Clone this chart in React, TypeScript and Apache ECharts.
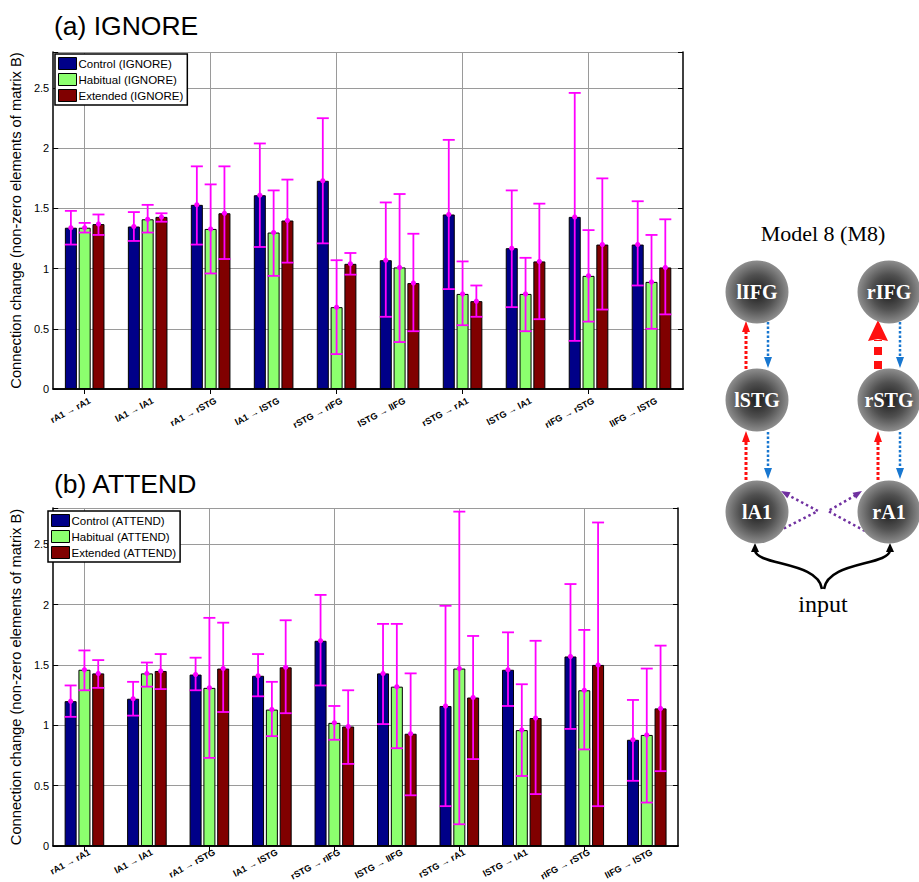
import React, { useEffect, useRef } from 'react';
import * as echarts from 'echarts';

// ---------- data ----------
const categories = [
  'rA1 → rA1', 'lA1 → lA1', 'rA1 → rSTG', 'lA1 → lSTG', 'rSTG → rIFG',
  'lSTG → lIFG', 'rSTG → rA1', 'lSTG → lA1', 'rIFG → rSTG', 'lIFG → lSTG',
];
const yTicks = [0, 0.5, 1, 1.5, 2, 2.5];

const ignoreControl = [1.34, 1.35, 1.53, 1.61, 1.73, 1.07, 1.45, 1.17, 1.43, 1.20];
const ignoreControlLow = [1.20, 1.23, 1.20, 1.18, 1.21, 0.60, 0.83, 0.68, 0.40, 0.86];
const ignoreControlHigh = [1.48, 1.47, 1.85, 2.04, 2.25, 1.55, 2.07, 1.65, 2.46, 1.56];
const ignoreHabitual = [1.34, 1.41, 1.33, 1.30, 0.68, 1.01, 0.79, 0.79, 0.94, 0.89];
const ignoreHabitualLow = [1.30, 1.30, 0.96, 0.94, 0.29, 0.39, 0.53, 0.48, 0.56, 0.50];
const ignoreHabitualHigh = [1.38, 1.53, 1.70, 1.65, 1.07, 1.62, 1.06, 1.09, 1.32, 1.28];
const ignoreExtended = [1.37, 1.43, 1.46, 1.40, 1.04, 0.88, 0.73, 1.06, 1.20, 1.01];
const ignoreExtendedLow = [1.28, 1.39, 1.08, 1.05, 0.95, 0.48, 0.60, 0.58, 0.66, 0.62];
const ignoreExtendedHigh = [1.45, 1.46, 1.85, 1.74, 1.13, 1.29, 0.86, 1.54, 1.75, 1.41];

const attendControl = [1.20, 1.22, 1.42, 1.41, 1.70, 1.43, 1.16, 1.46, 1.57, 0.88];
const attendControlLow = [1.07, 1.08, 1.29, 1.24, 1.33, 1.01, 0.33, 1.16, 0.97, 0.54];
const attendControlHigh = [1.33, 1.36, 1.56, 1.59, 2.08, 1.84, 1.99, 1.77, 2.17, 1.21];
const attendHabitual = [1.46, 1.43, 1.31, 1.13, 1.02, 1.32, 1.47, 0.96, 1.29, 0.92];
const attendHabitualLow = [1.29, 1.32, 0.73, 0.91, 0.88, 0.81, 0.18, 0.58, 0.80, 0.36];
const attendHabitualHigh = [1.62, 1.52, 1.89, 1.36, 1.16, 1.84, 2.77, 1.34, 1.79, 1.47];
const attendExtended = [1.43, 1.45, 1.47, 1.48, 0.99, 0.93, 1.23, 1.06, 1.50, 1.14];
const attendExtendedLow = [1.31, 1.30, 1.11, 1.10, 0.68, 0.42, 0.72, 0.43, 0.33, 0.62];
const attendExtendedHigh = [1.54, 1.59, 1.85, 1.87, 1.29, 1.43, 1.74, 1.70, 2.68, 1.66];

const groupNames = ['Control', 'Habitual', 'Extended'];
const panelTitles = ['(a) IGNORE', '(b) ATTEND'];
const panelTags = ['IGNORE', 'ATTEND'];
const yAxisName = 'Connection change (non-zero elements of matrix B)';

const nodeLabels = ['lIFG', 'rIFG', 'lSTG', 'rSTG', 'lA1', 'rA1'];
const modelTitle = 'Model 8 (M8)';
const inputLabel = 'input';

// ---------- style ----------
const SANS = '"Liberation Sans", Arial, Helvetica, sans-serif';
const SERIF = '"Liberation Serif", "Times New Roman", serif';
const BAR_COLORS = ['#000088', '#8cff6e', '#800000'];
const ERR = '#ff00ff';
const BAR_W = 12;
const OFFSETS = [-13.8, 0, 13.8];
const LABEL_ROT = (28 * Math.PI) / 180;
const LABEL_DY = [7, 1.5];

function errSeries(gi: number, k: number, mean: number[], lo: number[], hi: number[]) {
  return {
    type: 'custom',
    name: 'err' + gi + '_' + k,
    xAxisIndex: gi,
    yAxisIndex: gi,
    z: 5,
    silent: true,
    clip: false,
    encode: { x: 0, y: 1 },
    data: categories.map((_, i) => [i, lo[i], hi[i], mean[i]]),
    renderItem: (params: any, api: any) => {
      const i = api.value(0);
      const pLo = api.coord([i, api.value(1)]);
      const pHi = api.coord([i, api.value(2)]);
      const pM = api.coord([i, api.value(3)]);
      const cx = pLo[0] + OFFSETS[k];
      const hw = BAR_W / 2;
      const st = { stroke: ERR, lineWidth: 1.8 };
      return {
        type: 'group',
        children: [
          { type: 'line', shape: { x1: cx, y1: pHi[1], x2: cx, y2: pLo[1] }, style: st },
          { type: 'line', shape: { x1: cx - hw, y1: pHi[1], x2: cx + hw, y2: pHi[1] }, style: st },
          { type: 'line', shape: { x1: cx - hw, y1: pLo[1], x2: cx + hw, y2: pLo[1] }, style: st },
          { type: 'circle', shape: { cx, cy: pM[1], r: 2.6 }, style: { fill: ERR } },
        ],
      };
    },
  };
}

function labelSeries(gi: number) {
  return {
    type: 'custom',
    name: 'labels' + gi,
    xAxisIndex: gi,
    yAxisIndex: gi,
    silent: true,
    clip: false,
    encode: { x: 0, y: 1 },
    data: categories.map((_, i) => [i, 0]),
    renderItem: (params: any, api: any) => {
      const p = api.coord([api.value(0), 0]);
      return {
        type: 'text',
        x: p[0] + 3,
        y: p[1] + LABEL_DY[gi],
        rotation: LABEL_ROT,
        originX: 0,
        originY: 0,
        style: {
          text: categories[params.dataIndex],
          fontFamily: SANS, fontSize: 9, fontWeight: 'bold', fill: '#000',
          align: 'right', verticalAlign: 'top',
        },
      };
    },
  };
}

function arrowHead(tx: number, ty: number, dx: number, dy: number, len: number, wid: number, color: string) {
  const d = Math.hypot(dx, dy);
  const ux = dx / d, uy = dy / d;
  const bx = tx - ux * len, by = ty - uy * len;
  const px = -uy, py = ux;
  return {
    type: 'polygon',
    shape: { points: [[tx, ty], [bx + px * wid / 2, by + py * wid / 2], [bx - px * wid / 2, by - py * wid / 2]] },
    style: { fill: color },
    silent: true,
  };
}

function dottedLine(x1: number, y1: number, x2: number, y2: number, color: string, w: number, dash: number[]) {
  return {
    type: 'line',
    shape: { x1, y1, x2, y2 },
    style: { stroke: color, lineWidth: w, lineDash: dash },
    silent: true,
  };
}

function buildDiagram() {
  const RED = '#ff1010';
  const BLUE = '#1877d0';
  const PURPLE = '#7030a0';
  const xs = [757, 889];
  const ys = [292, 400, 512];
  const els: any[] = [];
  els.push({
    type: 'text', x: 823, y: 233,
    style: { text: modelTitle, fontFamily: SERIF, fontSize: 22, fill: '#000', align: 'center', verticalAlign: 'middle' },
  });
  const tops = [322, 432];
  const bots = [369, 480];
  for (let c = 0; c < 2; c++) {
    const rx = xs[c] - 11;
    const bx = xs[c] + 11;
    for (let p = 0; p < 2; p++) {
      const t = tops[p], b = bots[p];
      if (c === 1 && p === 0) {
        els.push(dottedLine(rx, b, rx, t + 18, RED, 8, [8, 6]));
        els.push({
          type: 'polygon',
          shape: { points: [[rx, t - 2], [rx + 10, t + 19], [rx, t + 17], [rx - 10, t + 19]] },
          style: { fill: RED }, silent: true,
        });
      } else {
        els.push(dottedLine(rx, b, rx, t + 10, RED, 3, [3, 2]));
        els.push(arrowHead(rx, t - 1, 0, -1, 11, 8, RED));
      }
      els.push(dottedLine(bx, t, bx, b - 10, BLUE, 2.5, [2.5, 2]));
      els.push(arrowHead(bx, b - 1, 0, 1, 11, 8, BLUE));
    }
  }
  els.push({
    type: 'polyline', shape: { points: [[779, 531], [818, 511], [788, 495]] },
    style: { stroke: PURPLE, lineWidth: 2.5, lineDash: [2.5, 3], fill: null }, silent: true,
  });
  els.push(arrowHead(781, 491, -37, -20, 9, 7, PURPLE));
  els.push({
    type: 'polyline', shape: { points: [[865, 531], [828, 511], [856, 495]] },
    style: { stroke: PURPLE, lineWidth: 2.5, lineDash: [2.5, 3], fill: null }, silent: true,
  });
  els.push(arrowHead(862, 491, 34, -21, 9, 7, PURPLE));
  els.push({
    type: 'bezierCurve',
    shape: { x1: 822, y1: 589, cpx1: 818, cpy1: 561, cpx2: 756, cpy2: 566, x2: 755, y2: 550 },
    style: { stroke: '#000', lineWidth: 2.6, fill: null }, silent: true,
  });
  els.push({
    type: 'bezierCurve',
    shape: { x1: 824, y1: 589, cpx1: 828, cpy1: 561, cpx2: 889, cpy2: 566, x2: 890, y2: 550 },
    style: { stroke: '#000', lineWidth: 2.6, fill: null }, silent: true,
  });
  els.push(arrowHead(755, 543, 0, -1, 9, 8, '#000'));
  els.push(arrowHead(890, 543, 0, -1, 9, 8, '#000'));
  els.push({
    type: 'text', x: 823, y: 604,
    style: { text: inputLabel, fontFamily: SERIF, fontSize: 24, fill: '#000', align: 'center', verticalAlign: 'middle' },
  });
  nodeLabels.forEach((lab, idx) => {
    const cx = xs[idx % 2];
    const cy = ys[Math.floor(idx / 2)];
    els.push({
      type: 'circle', shape: { cx, cy, r: 31.5 }, z: 10,
      style: {
        fill: new echarts.graphic.RadialGradient(0.5, 0.5, 0.5, [
          { offset: 0, color: '#1c1c1c' },
          { offset: 0.55, color: '#505050' },
          { offset: 1, color: '#8e8e8e' },
        ]),
      },
      silent: true,
    });
    els.push({
      type: 'text', x: cx, y: cy, z: 11,
      style: { text: lab, fontFamily: SERIF, fontWeight: 'bold', fontSize: 20, fill: '#fff', align: 'center', verticalAlign: 'middle' },
      silent: true,
    });
  });
  return els;
}

function buildOption() {
  const grids = [
    { left: 52, top: 52, width: 631, height: 337 },
    { left: 47, top: 508, width: 631, height: 338 },
  ];
  const panels = [
    [[ignoreControl, ignoreControlLow, ignoreControlHigh], [ignoreHabitual, ignoreHabitualLow, ignoreHabitualHigh], [ignoreExtended, ignoreExtendedLow, ignoreExtendedHigh]],
    [[attendControl, attendControlLow, attendControlHigh], [attendHabitual, attendHabitualLow, attendHabitualHigh], [attendExtended, attendExtendedLow, attendExtendedHigh]],
  ];
  const axisLine = { show: true, lineStyle: { color: '#000', width: 1.5 } };
  const xAxes: any[] = [];
  const yAxes: any[] = [];
  for (let g = 0; g < 2; g++) {
    xAxes.push({
      type: 'category', gridIndex: g, data: categories, position: 'bottom',
      axisLine, axisTick: { show: true, inside: true, alignWithLabel: true, length: 5, lineStyle: { color: '#000' } },
      axisLabel: { show: false },
      splitLine: { show: true, alignWithLabel: true, lineStyle: { color: '#9a9a9a', width: 1 } },
    });
  }
  for (let g = 0; g < 2; g++) {
    xAxes.push({
      type: 'category', gridIndex: g, data: categories, position: 'top',
      axisLine, axisTick: { show: true, inside: true, alignWithLabel: true, length: 5, lineStyle: { color: '#000' } },
      axisLabel: { show: false }, splitLine: { show: false },
    });
  }
  for (let g = 0; g < 2; g++) {
    yAxes.push({
      type: 'value', gridIndex: g, min: 0, max: 2.8, interval: 0.5, position: 'left',
      name: yAxisName, nameLocation: 'middle', nameGap: g === 0 ? 25 : 20,
      nameTextStyle: { fontSize: 14.7, fontFamily: SANS, color: '#000' },
      axisLine, axisTick: { show: true, inside: true, length: 5, lineStyle: { color: '#000' } },
      axisLabel: {
        fontSize: 11, fontFamily: SANS, color: '#000', margin: 4,
        formatter: (v: number) => (yTicks.some((t) => Math.abs(t - v) < 1e-6) ? String(v) : ''),
      },
      splitLine: { show: true, lineStyle: { color: '#9a9a9a', width: 1 } },
    });
  }
  for (let g = 0; g < 2; g++) {
    yAxes.push({
      type: 'value', gridIndex: g, min: 0, max: 2.8, interval: 0.5, position: 'right',
      axisLine, axisTick: { show: true, inside: true, length: 5, lineStyle: { color: '#000' } },
      axisLabel: { show: false }, splitLine: { show: false },
    });
  }
  const series: any[] = [];
  const legends: any[] = [];
  for (let g = 0; g < 2; g++) {
    const names = groupNames.map((n) => `${n} (${panelTags[g]})`);
    panels[g].forEach((arr, k) => {
      series.push({
        type: 'bar', name: names[k], xAxisIndex: g, yAxisIndex: g,
        data: arr[0], barWidth: BAR_W, barGap: '15%',
        itemStyle: { color: BAR_COLORS[k], borderColor: '#000', borderWidth: 1 },
        silent: true,
      });
    });
    panels[g].forEach((arr, k) => {
      series.push(errSeries(g, k, arr[0], arr[1], arr[2]));
    });
    series.push(labelSeries(g));
    legends.push({
      data: names, orient: 'vertical', left: g === 0 ? 55 : 48, top: g === 0 ? 54 : 511,
      backgroundColor: '#fff', borderColor: '#000', borderWidth: 1.5, padding: [3, 4, 3, 3],
      itemGap: 3, itemWidth: 18, itemHeight: 12, icon: 'rect', selectedMode: false,
      itemStyle: { borderColor: '#000', borderWidth: 1 },
      textStyle: { fontSize: 11.5, fontFamily: SANS, color: '#000', padding: [0, 0, 0, -3] },
    });
  }
  return {
    animation: false,
    backgroundColor: '#fff',
    title: [
      { text: panelTitles[0], left: 49, top: 7, textStyle: { fontSize: 26.5, fontWeight: 'normal', fontFamily: SANS, color: '#000' } },
      { text: panelTitles[1], left: 49, top: 465, textStyle: { fontSize: 26.5, fontWeight: 'normal', fontFamily: SANS, color: '#000' } },
    ],
    grid: grids,
    xAxis: xAxes,
    yAxis: yAxes,
    legend: legends,
    series,
    graphic: buildDiagram(),
  };
}

export default function App() {
  const ref = useRef<HTMLDivElement>(null);
  useEffect(() => {
    if (!ref.current) return;
    const chart = echarts.init(ref.current, undefined, { renderer: 'svg' });
    chart.setOption(buildOption() as any);
    return () => chart.dispose();
  }, []);
  return <div ref={ref} style={{ position: 'fixed', left: 0, top: 0, width: 919, height: 882 }} />;
}
